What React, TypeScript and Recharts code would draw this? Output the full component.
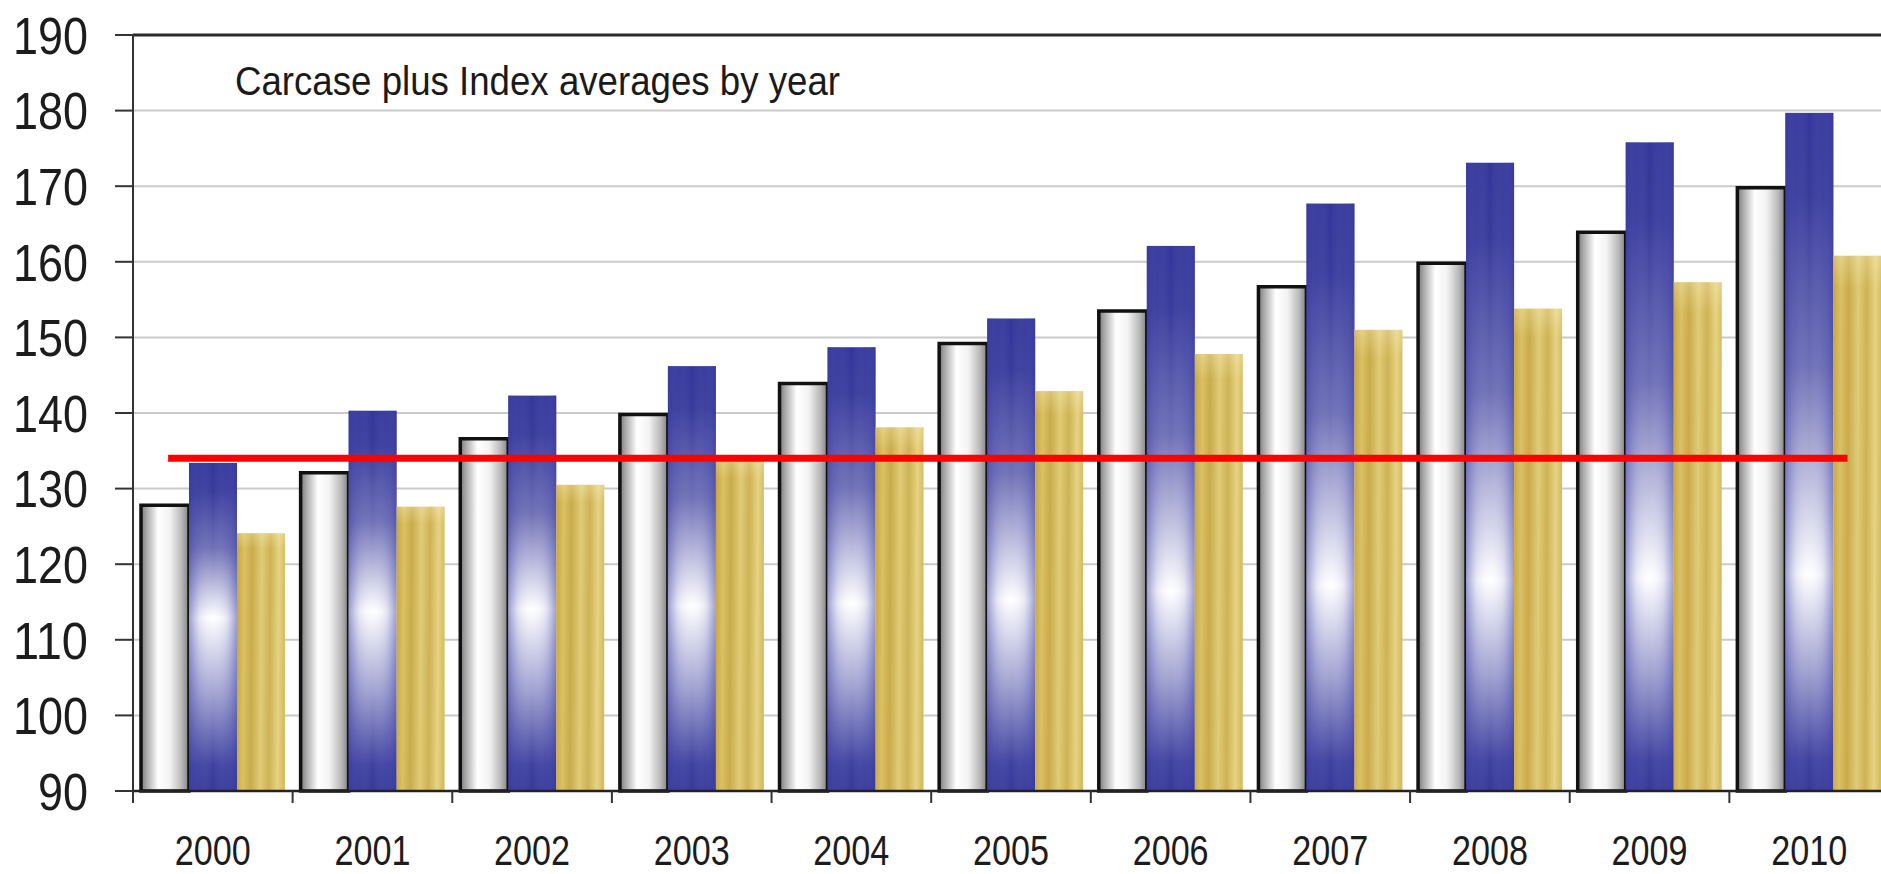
import React from 'react';
import { BarChart, Bar, XAxis, YAxis, CartesianGrid, ReferenceLine } from 'recharts';

const years = ['2000', '2001', '2002', '2003', '2004', '2005', '2006', '2007', '2008', '2009', '2010'];
const silverSeries = [127.8, 132.1, 136.6, 139.8, 143.9, 149.2, 153.5, 156.7, 159.8, 163.9, 169.8];
const blueSeries = [133.4, 140.3, 142.3, 146.2, 148.7, 152.5, 162.1, 167.7, 173.1, 175.8, 179.7];
const goldSeries = [124.1, 127.6, 130.5, 134.0, 138.1, 142.9, 147.8, 151.0, 153.8, 157.3, 160.8];
const yTicks = [90, 100, 110, 120, 130, 140, 150, 160, 170, 180, 190];

// red benchmark line, drawn across most of the year groups
const benchmark = 134;
const benchmarkSpan = [0.22, 10.74];

const title = 'Carcase plus  Index averages by year';

const data = years.map((year, i) => ({
  year,
  slot: i + 0.5,
  silver: silverSeries[i],
  blue: blueSeries[i],
  gold: goldSeries[i],
}));

// tick marks sit between the year groups, not under them
const groupEdges = years.map((_, i) => i);

const FONT = '"Liberation Sans", Arial, sans-serif';

const NoLabel = () => <g />;

const ValueTick = ({ x, y, payload }: any) => {
  const label = String(payload.value);
  return (
    <text
      x={x}
      y={y}
      dy="0.36em"
      textAnchor="end"
      fontSize={52}
      fontFamily={FONT}
      fill="#1c1c1c"
      textLength={label.length * 25}
      lengthAdjust="spacingAndGlyphs"
    >
      {label}
    </text>
  );
};

const YearTick = ({ x, y, payload }: any) => (
  <text
    x={x}
    y={y + 73}
    textAnchor="middle"
    fontSize={42}
    fontFamily={FONT}
    fill="#1c1c1c"
    textLength={76}
    lengthAdjust="spacingAndGlyphs"
  >
    {payload.value}
  </text>
);

// the white band of the blue bars sits lower on short bars, higher on tall ones
const BlueBar = ({ x, y, width, height, index }: any) => {
  if (!height || height <= 0) return null;
  const glow = Math.min(0.72, Math.max(0.42, 1 - (133 + 0.123 * height) / height));
  const id = `blueFill-${index}`;
  return (
    <g>
      <defs>
        <linearGradient id={id} x1="0" y1="0" x2="0" y2="1">
          <stop offset={0} stopColor="#33359a" />
          <stop offset={glow * 0.18} stopColor="#383a9c" />
          <stop offset={glow * 0.55} stopColor="#6e70b6" />
          <stop offset={glow} stopColor="#ffffff" />
          <stop offset={glow + (1 - glow) * 0.45} stopColor="#9fa1d0" />
          <stop offset={glow + (1 - glow) * 0.85} stopColor="#3f41a0" />
          <stop offset={1} stopColor="#35379b" />
        </linearGradient>
      </defs>
      <rect x={x} y={y} width={width} height={height} fill={`url(#${id})`} />
      <rect x={x} y={y} width={width} height={height} fill="url(#blueEdges)" />
    </g>
  );
};

const GoldBar = ({ x, y, width, height }: any) => {
  if (!height || height <= 0) return null;
  return (
    <g>
      <rect x={x} y={y} width={width} height={height} fill="url(#goldFill)" />
      <rect x={x} y={y} width={width} height={height} fill="url(#goldSheen)" />
    </g>
  );
};

export default function App() {
  return (
    <div
      style={{
        position: 'fixed',
        left: 0,
        top: 0,
        width: 1881,
        height: 874,
        overflow: 'hidden',
        background: '#fff',
      }}
    >
      <BarChart
        width={1900}
        height={874}
        data={data}
        margin={{ top: 35, right: 11, bottom: 0, left: 0 }}
        barCategoryGap="5%"
        barGap={0}
      >
        <defs>
          <linearGradient id="silverFill" x1="0" y1="0" x2="1" y2="0">
            <stop offset="0%" stopColor="#7a7a7a" />
            <stop offset="12%" stopColor="#aaaaaa" />
            <stop offset="36%" stopColor="#ffffff" />
            <stop offset="60%" stopColor="#f3f3f3" />
            <stop offset="85%" stopColor="#b8b8b8" />
            <stop offset="100%" stopColor="#808080" />
          </linearGradient>
          <linearGradient id="blueEdges" x1="0" y1="0" x2="1" y2="0">
            <stop offset="0%" stopColor="#3a3ca0" stopOpacity={0.5} />
            <stop offset="22%" stopColor="#6a6cc0" stopOpacity={0.15} />
            <stop offset="50%" stopColor="#ffffff" stopOpacity={0} />
            <stop offset="78%" stopColor="#6a6cc0" stopOpacity={0.15} />
            <stop offset="100%" stopColor="#3a3ca0" stopOpacity={0.5} />
          </linearGradient>
          <linearGradient id="goldFill" x1="0" y1="0" x2="1" y2="0.04">
            <stop offset="0%" stopColor="#c7a53f" />
            <stop offset="16%" stopColor="#dac166" />
            <stop offset="32%" stopColor="#c9ab4a" />
            <stop offset="52%" stopColor="#e0cb78" />
            <stop offset="70%" stopColor="#cfb254" />
            <stop offset="88%" stopColor="#e5d384" />
            <stop offset="100%" stopColor="#d6bd62" />
          </linearGradient>
          <linearGradient id="goldSheen" x1="0" y1="0" x2="0" y2="1">
            <stop offset="0%" stopColor="#fff6cf" stopOpacity={0.3} />
            <stop offset="6%" stopColor="#fff6cf" stopOpacity={0} />
            <stop offset="100%" stopColor="#fff6cf" stopOpacity={0} />
          </linearGradient>
        </defs>

        <CartesianGrid vertical={false} stroke="#cacaca" strokeWidth={2} />

        {/* numeric axis spanning the year groups: boundary ticks and the benchmark segment */}
        <XAxis
          xAxisId={0}
          dataKey="slot"
          type="number"
          domain={[0, years.length]}
          allowDataOverflow
          ticks={groupEdges}
          interval={0}
          tick={<NoLabel />}
          tickSize={12}
          tickLine={{ stroke: '#333', strokeWidth: 2 }}
          axisLine={{ stroke: '#222', strokeWidth: 2.5 }}
          height={1}
        />
        <XAxis
          xAxisId="years"
          dataKey="year"
          interval={0}
          tickLine={false}
          tickSize={0}
          tickMargin={0}
          axisLine={false}
          tick={<YearTick />}
          height={82}
        />
        <YAxis
          domain={[90, 190]}
          ticks={yTicks}
          width={133}
          tickSize={18}
          tickMargin={27}
          tickLine={{ stroke: '#333', strokeWidth: 2 }}
          axisLine={{ stroke: '#333', strokeWidth: 2 }}
          tick={<ValueTick />}
        />

        <Bar xAxisId="years" dataKey="silver" fill="url(#silverFill)" stroke="#111" strokeWidth={3.5} isAnimationActive={false} />
        <Bar xAxisId="years" dataKey="blue" shape={<BlueBar />} isAnimationActive={false} />
        <Bar xAxisId="years" dataKey="gold" shape={<GoldBar />} isAnimationActive={false} />

        <ReferenceLine y={190} stroke="#2a2a2a" strokeWidth={3} />
        <ReferenceLine
          segment={[
            { x: benchmarkSpan[0], y: benchmark },
            { x: benchmarkSpan[1], y: benchmark },
          ]}
          stroke="#ff0000"
          strokeWidth={7}
        />

        <text
          x={235}
          y={95}
          fontSize={40}
          fontFamily={FONT}
          fill="#1a1a1a"
          textLength={605}
          lengthAdjust="spacingAndGlyphs"
        >
          {title}
        </text>
      </BarChart>
    </div>
  );
}
